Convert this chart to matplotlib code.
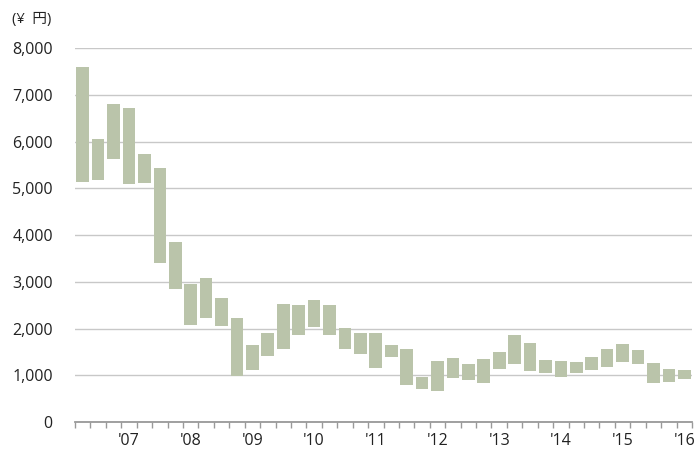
import numpy as np
import matplotlib.pyplot as plt

plt.rcParams["font.family"] = ["Open Sans", "Noto Sans CJK JP", "DejaVu Sans"]

# quarterly price range (yen), 2006 Q2 .. 2016 Q1
quarters = [f"{y}Q{q}" for y in range(2006, 2017) for q in range(1, 5)][1:41]

highs = [7590, 6050, 6810, 6710, 5730, 5440, 3840, 2950, 3080, 2650,
         2220, 1650, 1900, 2530, 2510, 2600, 2500, 2010, 1900, 1900,
         1650, 1570, 955, 1305, 1370, 1240, 1355, 1500, 1860, 1690,
         1325, 1300, 1285, 1400, 1570, 1660, 1535, 1260, 1125, 1110]
lows = [5140, 5175, 5630, 5100, 5110, 3410, 2850, 2085, 2220, 2045,
        985, 1110, 1405, 1570, 1855, 2025, 1855, 1555, 1445, 1160,
        1385, 790, 715, 665, 940, 900, 830, 1140, 1235, 1100,
        1040, 970, 1050, 1120, 1175, 1290, 1235, 840, 850, 920]

highs = np.array(highs)
lows = np.array(lows)
x = np.arange(len(quarters))

fig = plt.figure(figsize=(6.99, 4.53), dpi=100)
ax = fig.add_axes([0.1073, 0.0684, 0.8827, 0.8256])

ax.bar(x, highs - lows, bottom=lows, width=0.82, color="#bac4aa", zorder=3)

ax.set_xlim(-0.5, len(quarters) - 0.5)
ax.set_ylim(0, 8000)
ax.set_yticks(range(0, 8001, 1000))
ax.set_yticklabels([f"{v:,}" for v in range(0, 8001, 1000)])
ax.grid(axis="y", color="#c8c8c8", linewidth=1, zorder=0)

# year labels on first quarter
lab_pos = [i for i, q in enumerate(quarters) if q.endswith("Q1")]
ax.set_xticks(lab_pos)
ax.set_xticklabels(["'" + quarters[i][2:4] for i in lab_pos])
ax.set_xticks(np.arange(-0.5, len(quarters)), minor=True)
ax.tick_params(axis="x", which="major", length=0, pad=8, labelsize=11.5, colors="#222222")
ax.tick_params(axis="x", which="minor", length=4, width=1, color="#999999")
ax.tick_params(axis="y", length=0, pad=16, labelsize=11.5, colors="#222222")

for s in ["top", "right", "left"]:
    ax.spines[s].set_visible(False)
ax.spines["bottom"].set_color("#999999")
ax.spines["bottom"].set_linewidth(1.3)
ax.spines["bottom"].set_zorder(4)

fig.text(0.017, 0.958, "(¥  円)", fontsize=10.5, va="center", ha="left", color="#222222")

fig.savefig("out.png", dpi=100)
